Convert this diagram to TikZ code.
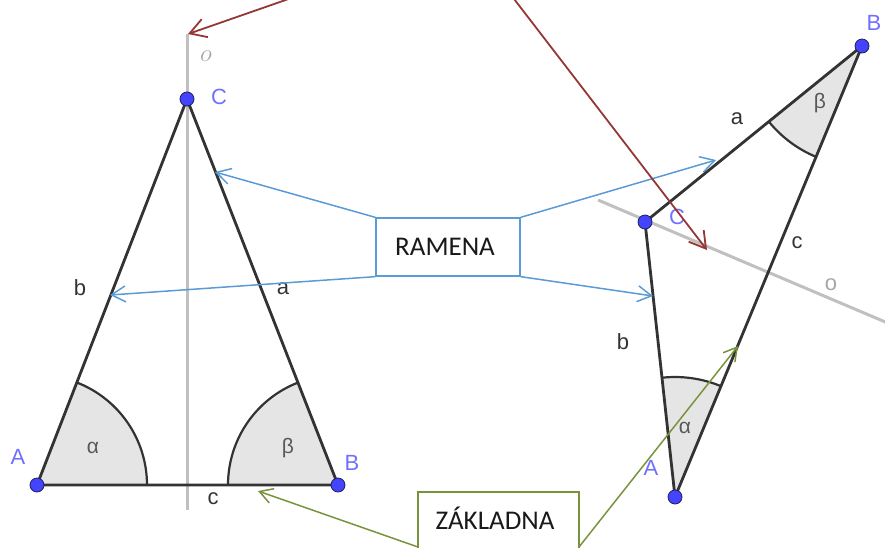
\documentclass[tikz,border=0pt]{standalone}
\usepackage{fontspec}
\newfontfamily\geofont{Liberation Sans}
\newfontfamily\boxfont{Carlito}
\usetikzlibrary{arrows.meta,calc}
\definecolor{ptblue}{RGB}{68,68,255}
\definecolor{ptedge}{RGB}{30,30,90}
\definecolor{lblblue}{RGB}{112,112,255}
\definecolor{sidec}{RGB}{51,51,51}
\definecolor{axisc}{RGB}{192,192,192}
\definecolor{angfill}{RGB}{229,229,229}
\definecolor{darkredc}{RGB}{149,55,53}
\definecolor{lineblue}{RGB}{91,155,213}
\definecolor{olivec}{RGB}{119,147,60}
\begin{document}
\begin{tikzpicture}[x=1pt,y=1pt,
  sidel/.style={draw=sidec,line width=2.8pt,line cap=round},
  axisl/.style={draw=axisc,line width=3pt},
  angsector/.style={fill=angfill},
  angarc/.style={draw=sidec,line width=2.2pt},
  pt/.style={circle,fill=ptblue,draw=ptedge,line width=0.8pt,inner sep=0pt,minimum size=14pt},
  lbl/.style={text=lblblue,font=\geofont\fontsize{22}{24}\selectfont,inner sep=0pt},
  sidelbl/.style={text=sidec,font=\geofont\fontsize{22}{24}\selectfont,inner sep=0pt},
  anglbl/.style={text=black!65,font=\geofont\fontsize{21}{24}\selectfont,inner sep=0pt},
  redarrow/.style={draw=darkredc,line width=1.8pt,-{Straight Barb[length=16pt,width=19pt]}},
  bluearrow/.style={draw=lineblue,line width=1.5pt,-{Straight Barb[length=14pt,width=16pt]}},
  greenarrow/.style={draw=olivec,line width=1.5pt,-{Straight Barb[length=13pt,width=15pt]}},
  boxtext/.style={font=\boxfont\fontsize{27}{30}\selectfont,text=black!90,inner sep=0pt}
]
\useasboundingbox (0,0) rectangle (885,-547);
\clip (0,0) rectangle (885,-547);

% ---------- coordinates ----------
\coordinate (A1) at (37,-485);
\coordinate (B1) at (338,-485);
\coordinate (C1) at (187,-99);
\coordinate (A2) at (675,-497);
\coordinate (B2) at (862,-46);
\coordinate (C2) at (645,-222);

% ---------- axes ----------
\coordinate (o1s) at (187,-34);
\coordinate (o1e) at (187,-510);
\draw[axisl] (o1s) -- (o1e);
\coordinate (o2s) at (598,-200);
\coordinate (o2e) at (890,-324);
\draw[axisl] (o2s) -- (o2e);

% ---------- angle sectors ----------
\fill[angsector] (A1) -- ++(0:110) arc[start angle=0,end angle=68.8,radius=110] -- cycle;
\draw[angarc] (A1) ++(0:110) arc[start angle=0,end angle=68.8,radius=110];
\fill[angsector] (B1) -- ++(111.4:110) arc[start angle=111.4,end angle=180,radius=110] -- cycle;
\draw[angarc] (B1) ++(111.4:110) arc[start angle=111.4,end angle=180,radius=110];
\fill[angsector] (A2) -- ++(67.5:120) arc[start angle=67.5,end angle=96.2,radius=120] -- cycle;
\draw[angarc] (A2) ++(67.5:120) arc[start angle=67.5,end angle=96.2,radius=120];
\fill[angsector] (B2) -- ++(219:120) arc[start angle=219,end angle=247.5,radius=120] -- cycle;
\draw[angarc] (B2) ++(219:120) arc[start angle=219,end angle=247.5,radius=120];

% ---------- sides ----------
\draw[sidel] (A1) -- (B1) -- (C1) -- cycle;
\draw[sidel] (A2) -- (B2) -- (C2) -- cycle;

% ---------- points ----------
\node[pt] (pA1) at (A1) {};
\node[pt] (pB1) at (B1) {};
\node[pt] (pC1) at (C1) {};
\node[pt] (pA2) at (A2) {};
\node[pt] (pB2) at (B2) {};
\node[pt] (pC2) at (C2) {};

% ---------- labels, left ----------
\node[lbl] (lA1) at (18,-457) {A};
\node[lbl] (lB1) at (352,-463) {B};
\node[lbl] (lC1) at (219,-97) {C};
\node[sidelbl] (la1) at (283,-289) {a};
\node[sidelbl] (lb1) at (80,-288) {b};
\node[sidelbl] (lc1) at (213,-499) {c};
\node[anglbl] (lal1) at (93,-448) {α};
\node[anglbl] (lbe1) at (288,-448) {β};
\node[text=black!35,font=\fontsize{26}{28}\selectfont,inner sep=0pt] (lo1) at (206,-56) {$o$};

% ---------- labels, right ----------
\node[lbl] (lA2) at (651,-468) {A};
\node[lbl] (lB2) at (874,-23) {B};
\node[lbl] (lC2) at (677,-217) {C};
\node[sidelbl] (la2) at (737,-119) {a};
\node[sidelbl] (lb2) at (623,-342) {b};
\node[sidelbl] (lc2) at (797,-243) {c};
\node[anglbl] (lal2) at (685,-428) {α};
\node[anglbl] (lbe2) at (820,-103) {β};
\node[text=black!35,font=\geofont\fontsize{22}{24}\selectfont,inner sep=0pt] (lo2) at (831,-285) {o};

% ---------- RAMENA ----------
\node[draw=lineblue,line width=1.3pt,minimum width=144pt,minimum height=58pt,inner sep=0pt] (ram) at (448,-247) {};
\node[boxtext] (ramt) at (445,-247) {RAMENA};
\coordinate (tb1) at (215,-172);
\coordinate (tb2) at (110,-295);
\coordinate (tb3) at (716,-160);
\coordinate (tb4) at (653,-296);
\draw[bluearrow] (ram.north west) -- (tb1);
\draw[bluearrow] (ram.south west) -- (tb2);
\draw[bluearrow] (ram.north east) -- (tb3);
\draw[bluearrow] (ram.south east) -- (tb4);

% ---------- ZAKLADNA ----------
\node[draw=olivec,line width=1.3pt,minimum width=161pt,minimum height=62pt,inner sep=0pt] (zakbox) at (498.5,-523) {};
\node[boxtext] (zakt) at (495,-518) {ZÁKLADNA};
\coordinate (zl) at (418,-547);
\coordinate (zr) at (579,-547);
\coordinate (tg1) at (258,-491);
\coordinate (tg2) at (738,-346);
\draw[greenarrow] (zl) -- (tg1);
\draw[greenarrow] (zr) -- (tg2);

% ---------- red arrows (from above) ----------
\coordinate (r1s) at (300,5);
\coordinate (r1t) at (188,-34);
\coordinate (r2s) at (511,5);
\coordinate (r2t) at (707,-250);
\draw[redarrow] (r1s) -- (r1t);
\draw[redarrow] (r2s) -- (r2t);
\end{tikzpicture}
\end{document}
